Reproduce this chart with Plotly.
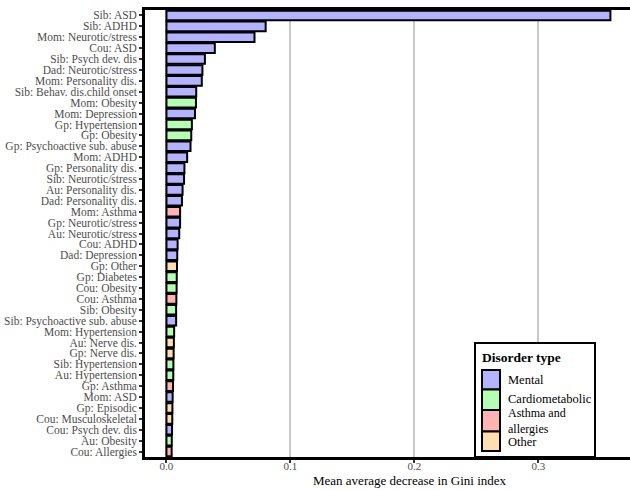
import plotly.graph_objects as go

# Predictors, ordered from most to least important
labels = [
    "Sib: ASD", "Sib: ADHD", "Mom: Neurotic/stress", "Cou: ASD", "Sib: Psych dev. dis",
    "Dad: Neurotic/stress", "Mom: Personality dis.", "Sib: Behav. dis.child onset",
    "Mom: Obesity", "Mom: Depression", "Gp: Hypertension", "Gp: Obesity",
    "Gp: Psychoactive sub. abuse", "Mom: ADHD", "Gp: Personality dis.",
    "Sib: Neurotic/stress", "Au: Personality dis.", "Dad: Personality dis.",
    "Mom: Asthma", "Gp: Neurotic/stress", "Au: Neurotic/stress", "Cou: ADHD",
    "Dad: Depression", "Gp: Other", "Gp: Diabetes", "Cou: Obesity", "Cou: Asthma",
    "Sib: Obesity", "Sib: Psychoactive sub. abuse", "Mom: Hypertension",
    "Au: Nerve dis.", "Gp: Nerve dis.", "Sib: Hypertension", "Au: Hypertension",
    "Gp: Asthma", "Mom: ASD", "Gp: Episodic", "Cou: Musculoskeletal",
    "Cou: Psych dev. dis", "Au: Obesity", "Cou: Allergies",
]
gini_decrease = [
    0.358, 0.080, 0.071, 0.039, 0.031,
    0.029, 0.0285, 0.024,
    0.0238, 0.023, 0.0205, 0.020,
    0.0194, 0.0167, 0.0145,
    0.0142, 0.013, 0.0125,
    0.011, 0.011, 0.0103, 0.009,
    0.0087, 0.0085, 0.0083, 0.0082, 0.008,
    0.0078, 0.0078, 0.0062,
    0.006, 0.0058, 0.0056, 0.0055,
    0.0053, 0.005, 0.0048, 0.0047,
    0.0045, 0.0043, 0.0042,
]
disorder = [
    "Mental", "Mental", "Mental", "Mental", "Mental",
    "Mental", "Mental", "Mental",
    "Cardiometabolic", "Mental", "Cardiometabolic", "Cardiometabolic",
    "Mental", "Mental", "Mental",
    "Mental", "Mental", "Mental",
    "Asthma and allergies", "Mental", "Mental", "Mental",
    "Mental", "Other", "Cardiometabolic", "Cardiometabolic", "Asthma and allergies",
    "Cardiometabolic", "Mental", "Cardiometabolic",
    "Other", "Other", "Cardiometabolic", "Cardiometabolic",
    "Asthma and allergies", "Mental", "Other", "Other",
    "Mental", "Cardiometabolic", "Asthma and allergies",
]
types = ["Mental", "Cardiometabolic", "Asthma and allergies", "Other"]
type_labels = ["Mental", "Cardiometabolic", "Asthma and<br>allergies", "Other"]
type_colors = ["#b3b3ff", "#b3ffb3", "#ffb3b3", "#ffdfb0"]
x_ticks = [0.0, 0.1, 0.2, 0.3]

FONT = "Liberation Serif, Times New Roman, serif"
W, H = 630, 490
L, R, T, B = 145, 0, 10, 33

fig = go.Figure()
for t, c in zip(types, type_colors):
    ys = [lab for lab, d in zip(labels, disorder) if d == t]
    xs = [v for v, d in zip(gini_decrease, disorder) if d == t]
    fig.add_trace(go.Bar(
        y=ys, x=xs, orientation="h", width=0.88, name=t,
        marker=dict(color=c, line=dict(color="black", width=2)),
        showlegend=False,
    ))

# helpers for placing the legend box in pixel terms
pw, ph = W - L - R, H - T - B
def px(x):
    return (x - L) / pw
def py(y):
    return (H - B - y) / ph

shapes = [dict(type="rect", xref="paper", yref="paper", layer="above",
               x0=px(475), x1=px(595), y0=py(457), y1=py(343),
               fillcolor="white", line=dict(color="black", width=2))]
annotations = [dict(xref="paper", yref="paper", x=px(480), y=py(357), xanchor="left",
                    yanchor="middle", showarrow=False, text="<b>Disorder type</b>",
                    font=dict(family=FONT, size=13.5, color="black"))]
key_edges = [370, 389.5, 410, 431.5, 451]
text_y = [380, 399, 420.5, 441.5]
for i, (lab, c) in enumerate(zip(type_labels, type_colors)):
    shapes.append(dict(type="rect", xref="paper", yref="paper", layer="above",
                       x0=px(482), x1=px(500), y0=py(key_edges[i + 1]), y1=py(key_edges[i]),
                       fillcolor=c, line=dict(color="black", width=2)))
    annotations.append(dict(xref="paper", yref="paper", x=px(506), y=py(text_y[i]),
                            xanchor="left", yanchor="middle", align="left",
                            showarrow=False, text=lab,
                            font=dict(family=FONT, size=12.5 if i != 2 else 12,
                                      color="black")))

annotations.append(dict(xref="paper", yref="paper", x=px(410), y=py(481), xanchor="center",
                        yanchor="middle", showarrow=False,
                        text="Mean average decrease in Gini index",
                        font=dict(family=FONT, size=13, color="black")))

fig.update_layout(
    width=W, height=H,
    margin=dict(l=L, r=R, t=T, b=B, pad=0),
    plot_bgcolor="white", paper_bgcolor="white",
    barmode="overlay",
    font=dict(family=FONT),
    shapes=shapes, annotations=annotations,
    xaxis=dict(
        range=[-0.0173, 0.3738], tickmode="array", tickvals=x_ticks,
        ticktext=[f"{v:.1f}" for v in x_ticks],
        showgrid=True, gridcolor="#c8c8c8", gridwidth=2, zeroline=False,
        showline=True, linecolor="black", linewidth=2.5, mirror=True,
        ticks="outside", ticklen=3, tickwidth=2, tickcolor="#333333",
        ticklabelstandoff=-6,
        tickfont=dict(family=FONT, size=11, color="#4d4d4d"),
    ),
    yaxis=dict(
        categoryorder="array", categoryarray=labels, range=[40.5, -0.5],
        tickmode="array", tickvals=labels, ticktext=labels,
        showgrid=False, zeroline=False,
        showline=True, linecolor="black", linewidth=2.5,
        ticks="outside", ticklen=3, tickwidth=2, tickcolor="#333333",
        tickfont=dict(family=FONT, size=11.5, color="#4d4d4d"),
    ),
)

fig.write_html("out.html")
